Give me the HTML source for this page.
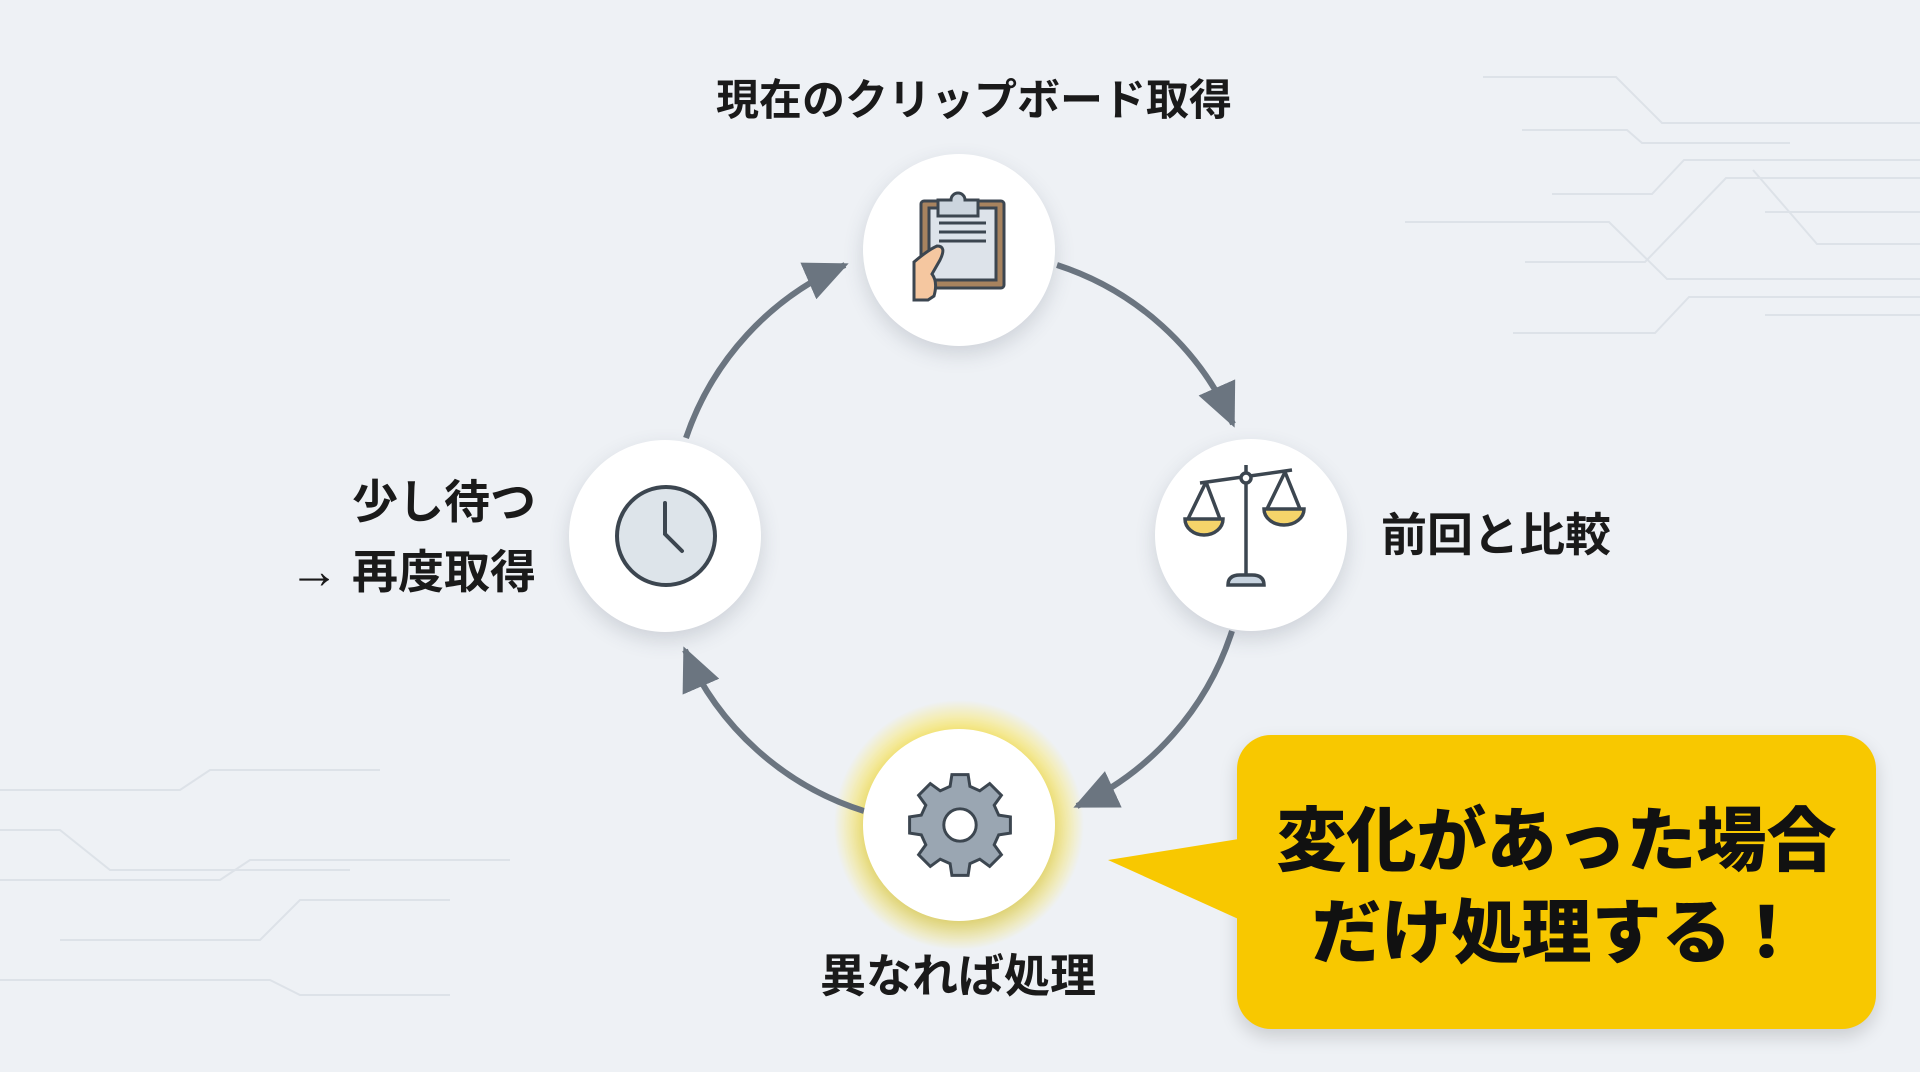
<!DOCTYPE html>
<html><head><meta charset="utf-8"><style>
html,body{margin:0;padding:0}
body{width:1920px;height:1072px;overflow:hidden;background:#eef1f5;position:relative;font-family:"Liberation Sans","Noto Sans CJK JP",sans-serif;color:#1a1a1a}
.lbl{position:absolute;font-weight:700;font-size:46px;white-space:nowrap;line-height:1}
.node{position:absolute;width:192px;height:192px;border-radius:50%;background:#fff;box-shadow:0 8px 20px rgba(60,70,90,.18)}
.call{position:absolute;left:1237px;top:735px;width:639px;height:294px;background:#f8c800;border-radius:34px;box-shadow:0 8px 18px rgba(0,0,0,.15)}
.ct{position:absolute;left:1237px;width:639px;text-align:center;font-size:70px;font-weight:900;line-height:1;color:#111}
</style></head><body>
<svg width="1920" height="1072" style="position:absolute;left:0;top:0">
<defs>
<marker id="ah" markerUnits="userSpaceOnUse" markerWidth="50" markerHeight="44" refX="40" refY="20" orient="auto"><path d="M0,0 L44,20 L0,40 z" fill="#6b7580"/></marker>
<radialGradient id="glow"><stop offset="0.65" stop-color="#ffe640" stop-opacity="1"/><stop offset="1" stop-color="#ffe640" stop-opacity="0"/></radialGradient>
</defs>
<g stroke="#dde2e8" stroke-width="2" fill="none">
<path d="M1483,77 H1616 L1662,123 H1920"/><path d="M1522,130 H1627 L1642,143 H1790"/>
<path d="M1552,194 H1652 L1684,160 H1920"/><path d="M1405,222 H1609 L1667,279 H1920"/>
<path d="M1525,262 H1645 L1726,178 H1920"/><path d="M1753,170 L1817,244 H1920"/>
<path d="M1513,333 H1655 L1689,297 H1920"/><path d="M1765,212 H1920"/><path d="M1765,315 H1920"/>
<path d="M0,790 H180 L210,770 H380"/><path d="M0,830 H60 L110,870 H350"/><path d="M0,880 H220 L250,860 H510"/>
<path d="M60,940 H260 L300,900 H450"/><path d="M0,980 H270 L300,995 H450"/>
</g>
<circle cx="959" cy="825" r="125" fill="url(#glow)"/>
<g stroke="#6b7580" stroke-width="6" fill="none" marker-end="url(#ah)">
<path d="M1057,265 A290,290 0 0 1 1233,424"/>
<path d="M1232,631 A290,290 0 0 1 1077,806"/>
<path d="M864,811 A290,290 0 0 1 685,650"/>
<path d="M686,438 A290,290 0 0 1 845,265"/>
</g>
</svg>
<div class="node" style="left:863px;top:154px"></div>
<div class="node" style="left:1155px;top:439px"></div>
<div class="node" style="left:569px;top:440px"></div>
<div class="node" style="left:863px;top:729px"></div>
<svg width="1920" height="1072" style="position:absolute;left:0;top:0">
<g stroke="#3c4650" stroke-width="3">
<rect x="921" y="201" width="83" height="87" rx="3" fill="#a7835f"/>
<rect x="929" y="208" width="67" height="72" fill="#dde3ea"/>
<path d="M938,216 V200 H951 a7,7 0 0 1 14,0 H978 V216 Z" fill="#ccd5de"/>
<path d="M939,223 H986 M939,232 H986 M939,241 H986" />
</g>
<path d="M914,300 V262 Q928,250 937,246 Q947,246 940,260 L932,274 Q938,282 934,296 L928,300 Z" fill="#f5c7a0" stroke="#3c4650" stroke-width="3"/>
<g stroke="#3c4650" stroke-width="3.5" fill="none">
<path d="M1200,483 L1292,470"/><path d="M1246,465 V574"/><circle cx="1246" cy="478" r="5" fill="#fff"/>
<path d="M1206,482 L1188,519 M1206,482 L1220,519 M1285,472 L1267,509 M1285,472 L1300,509"/>
<path d="M1185,519 H1223 A19,16 0 0 1 1185,519 Z" fill="#f5d46a"/>
<path d="M1264,509 H1304 A20,16 0 0 1 1264,509 Z" fill="#f5d46a"/>
<path d="M1228,585 Q1228,575 1240,575 H1252 Q1264,575 1264,585 Z" fill="#c8d4e0"/>
</g>
<circle cx="666" cy="536" r="49" fill="#dde4ea" stroke="#3c4650" stroke-width="4"/>
<path d="M665,503 V534 L682,551" stroke="#3c4650" stroke-width="4" fill="none" stroke-linecap="round"/>
<g transform="translate(960,825) scale(0.9)">
<g fill="#9aa6b2" stroke="#3c4650" stroke-width="3.3">
<path d="M-9,-49 H9 L11,-36 L22,-31 L33,-39 L46,-26 L38,-15 L43,-4 L56,-2 V16 L43,18 L38,29 L46,40 L33,53 L22,45 L11,50 L9,63 H-9 L-11,50 L-22,45 L-33,53 L-46,40 L-38,29 L-43,18 L-56,16 V-2 L-43,-4 L-38,-15 L-46,-26 L-33,-39 L-22,-31 L-11,-36 Z" transform="translate(0,-7)"/>
<circle cx="0" cy="0" r="18" fill="#fff"/>
</g></g>
</svg>
<div class="call"></div>
<svg width="1920" height="1072" style="position:absolute;left:0;top:0"><path d="M1245,838 L1108,860 L1245,922 Z" fill="#f8c800"/></svg>
<div class="ct" style="top:806px">変化があった場合</div>
<div class="ct" style="top:898px">だけ処理する！</div>
<div class="lbl" style="left:716px;top:80px;font-size:43px">現在のクリップボード取得</div>
<div class="lbl" style="left:1381px;top:512px">前回と比較</div>
<div class="lbl" style="left:820px;top:953px">異なれば処理</div>
<div class="lbl" style="right:1384px;top:479px;text-align:right">少し待つ</div>
<div class="lbl" style="right:1384px;top:546px;text-align:right"><span style="font-size:50px">→</span> 再度取得</div>
</body></html>
